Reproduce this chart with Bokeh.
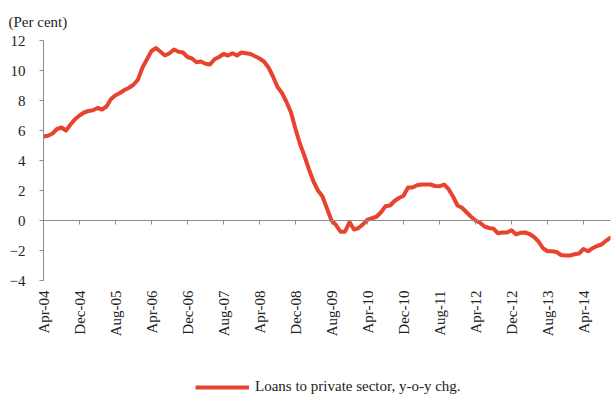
import numpy as np
from bokeh.plotting import figure
from bokeh.layouts import column
from bokeh.models import ColumnDataSource, FixedTicker, LinearAxis, Range1d, Legend, LegendItem
from bokeh.embed import file_html
from bokeh.resources import INLINE

# ---- data (monthly, Apr-04 .. Oct-14) ----
month_names = ["Jan", "Feb", "Mar", "Apr", "May", "Jun", "Jul", "Aug", "Sep", "Oct", "Nov", "Dec"]
loans = [
    5.6, 5.65, 5.8, 6.1, 6.2, 6.0, 6.4, 6.75, 7.0, 7.2,
    7.3, 7.35, 7.5, 7.4, 7.6, 8.1, 8.35, 8.5, 8.7, 8.85,
    9.05, 9.4, 10.2, 10.75, 11.3, 11.5, 11.25, 11.0, 11.15, 11.4,
    11.25, 11.2, 10.9, 10.8, 10.55, 10.6, 10.45, 10.4, 10.75, 10.9,
    11.1, 11.0, 11.15, 11.0, 11.2, 11.15, 11.1, 10.95, 10.8, 10.6,
    10.2, 9.6, 8.9, 8.5, 7.9, 7.2, 6.1, 5.1, 4.3, 3.4,
    2.6, 2.0, 1.6, 0.8, 0.0, -0.3, -0.75, -0.75, -0.1, -0.6,
    -0.5, -0.25, 0.05, 0.15, 0.25, 0.55, 0.95, 1.0, 1.3, 1.5,
    1.65, 2.2, 2.2, 2.35, 2.4, 2.4, 2.4, 2.3, 2.28, 2.4,
    2.1, 1.6, 1.0, 0.85, 0.55, 0.25, 0.0, -0.15, -0.4, -0.5,
    -0.55, -0.85, -0.8, -0.8, -0.65, -0.92, -0.82, -0.8, -0.9, -1.1,
    -1.4, -1.85, -2.05, -2.05, -2.1, -2.3, -2.33, -2.33, -2.25, -2.2,
    -1.9, -2.05, -1.85, -1.7, -1.6, -1.35, -1.15,
]
months = [f"{month_names[(3 + i) % 12]}-{(2004 + (3 + i) // 12) % 100:02d}" for i in range(len(loans))]
tick_every = 8
y_ticks = [-4, -2, 0, 2, 4, 6, 8, 10, 12]
series_label = "Loans to private sector, y-o-y chg."

idx = list(range(len(loans)))
tick_pos = idx[::tick_every]
tick_labels = {i: months[i] for i in tick_pos}

FONT = "Liberation Serif"
TXT = "#222222"
AX = "#8c8c8c"
RED = "#E8432F"
LINE_W = 4

src = ColumnDataSource(dict(x=idx, y=loans, month=months))

p = figure(width=613, height=345, output_backend="svg", toolbar_location=None,
           x_range=Range1d(0, len(loans) - 1), y_range=Range1d(y_ticks[0], y_ticks[-1]),
           min_border_left=43, min_border_right=3, min_border_top=40, min_border_bottom=65)
p.outline_line_color = None
p.xgrid.visible = False
p.ygrid.visible = False
p.background_fill_color = "white"
p.border_fill_color = "white"

r = p.line("x", "y", source=src, line_color=RED, line_width=LINE_W, line_join="round", line_cap="round")

# title
p.title.text = "(Per cent)"
p.title.text_font = FONT
p.title.text_font_size = "15px"
p.title.text_font_style = "normal"
p.title.text_color = TXT
p.title.align = "left"
p.title.offset = -35
p.title.standoff = 21

# y axis
ya = p.yaxis[0]
ya.ticker = FixedTicker(ticks=y_ticks)
ya.axis_line_color = AX
ya.major_tick_line_color = AX
ya.major_tick_in = 0
ya.major_tick_out = 4
ya.minor_tick_line_color = None
ya.major_label_text_font = FONT
ya.major_label_text_font_size = "15px"
ya.major_label_text_color = TXT
ya.major_label_standoff = 14

# x labels at the bottom
xa = p.xaxis[0]
xa.ticker = FixedTicker(ticks=tick_pos)
xa.major_label_overrides = tick_labels
xa.axis_line_color = None
xa.major_tick_line_color = None
xa.minor_tick_line_color = None
xa.major_tick_in = 0
xa.major_tick_out = 0
xa.major_label_orientation = np.pi / 2
xa.major_label_text_font = FONT
xa.major_label_text_font_size = "15px"
xa.major_label_text_color = TXT
xa.major_label_standoff = 10

# axis line at zero
za = LinearAxis(fixed_location=0, ticker=FixedTicker(ticks=tick_pos),
                axis_line_color=AX, major_tick_line_color=AX, major_tick_in=0, major_tick_out=4,
                minor_tick_line_color=None, major_label_text_color=None,
                major_label_text_font_size="1px", major_label_standoff=0)
p.add_layout(za, "below")

# legend strip below the chart (its line uses the same data, kept out of view)
lg = figure(width=613, height=56, output_backend="svg", toolbar_location=None,
            x_axis_location=None, y_axis_location=None,
            x_range=Range1d(0, 1), y_range=Range1d(1000, 1001),
            min_border_left=0, min_border_right=0, min_border_top=0, min_border_bottom=0)
lg.outline_line_color = None
lg.xgrid.visible = False
lg.ygrid.visible = False
lg.background_fill_color = "white"
lg.border_fill_color = "white"
key = lg.line("x", "y", source=src, line_color=RED, line_width=LINE_W, line_cap="butt")
legend = Legend(items=[LegendItem(label=series_label, renderers=[key])],
                location=(152, 6), orientation="horizontal",
                label_text_font=FONT, label_text_font_size="15px", label_text_color=TXT,
                glyph_width=54, glyph_height=16, label_standoff=6,
                padding=0, margin=0, spacing=0,
                border_line_alpha=0, background_fill_alpha=0)
lg.add_layout(legend, "center")

layout = column(p, lg, spacing=0)
open("out.html", "w").write(file_html(layout, INLINE))
